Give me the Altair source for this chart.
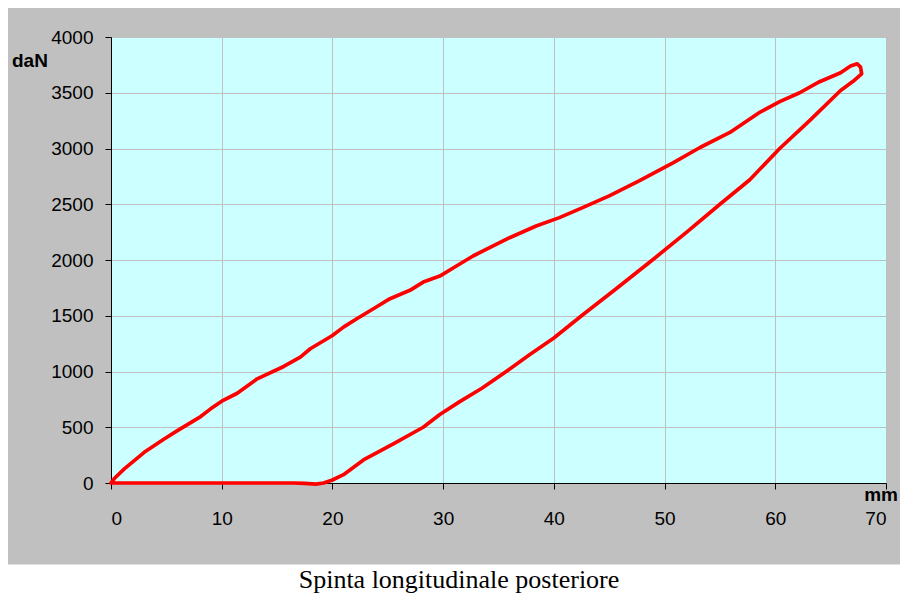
import altair as alt
import pandas as pd

# Loading branch (mm, daN)
load_mm = [0, 0.3, 1.2, 3.0, 4.8, 6.0, 8.1, 9.0, 10.0, 11.4, 13.2, 15.6, 17.1, 18.0,
           20.0, 21.0, 22.2, 23.7, 25.2, 27.0, 28.2, 29.7, 31.2, 32.7, 34.2, 36.0,
           38.4, 40.5, 42.6, 45.0, 47.7, 50.8, 53.2, 55.9, 58.6, 60.4, 62.2, 64.0,
           65.9, 66.8, 67.4, 67.7, 67.8]
load_dan = [0, 40, 126, 275, 395, 470, 596, 665, 734, 805, 934, 1045, 1129, 1204,
            1323, 1398, 1473, 1563, 1653, 1728, 1802, 1856, 1946, 2036, 2111, 2200,
            2305, 2380, 2470, 2575, 2710, 2874, 3009, 3144, 3325, 3420, 3500, 3599,
            3680, 3740, 3760, 3730, 3670]

# Unloading branch (mm, daN)
unload_mm = [67.0, 65.9, 63.1, 60.4, 57.7, 55.0, 52.0, 48.9, 45.6, 42.5, 40.0, 37.8,
             35.7, 33.5, 31.5, 29.7, 28.2, 25.5, 22.8, 21.0, 20.0, 19.2, 18.5, 17.5,
             16.5, 10.0, 0.0]
unload_dan = [3600, 3520, 3250, 3000, 2720, 2500, 2250, 2000, 1740, 1500, 1300, 1150,
              1000, 850, 730, 614, 500, 350, 207, 75, 27, 0, -10, -3,
              0, 0, 0]

x_ticks = [0, 10, 20, 30, 40, 50, 60, 70]
y_ticks = [0, 500, 1000, 1500, 2000, 2500, 3000, 3500, 4000]

y_label = "daN"
x_label = "mm"
caption = "Spinta longitudinale posteriore"

mm = load_mm + unload_mm
dan = load_dan + unload_dan
df = pd.DataFrame({"mm": mm, "daN": dan, "idx": list(range(len(mm)))})

W, H = 775, 446
one = pd.DataFrame({"a": [0]})

x_scale = alt.Scale(domain=[0, 70], nice=False, zero=False)
y_scale = alt.Scale(domain=[0, 4000], nice=False, zero=False)

white_band = alt.Chart(one).mark_rect(color="white", clip=False).encode(
    x=alt.value(-110), x2=alt.value(820), y=alt.value(527.5), y2=alt.value(620)
)

line = alt.Chart(df).mark_line(color="#FF0000", strokeWidth=3.7, clip=False,
                               strokeJoin="round", strokeCap="round").encode(
    x=alt.X("mm:Q", scale=x_scale,
            axis=alt.Axis(values=x_ticks, title=None, labelPadding=20, format="d")),
    y=alt.Y("daN:Q", scale=y_scale,
            axis=alt.Axis(values=y_ticks, title=None, labelPadding=12, format="d")),
    order=alt.Order("idx:Q"),
)

ylab = alt.Chart(one).mark_text(text=y_label, font="Liberation Sans", fontSize=19,
                                fontWeight="bold", align="left", baseline="alphabetic",
                                color="black").encode(x=alt.value(-99), y=alt.value(30))
xlab = alt.Chart(one).mark_text(text=x_label, font="Liberation Sans", fontSize=19,
                                fontWeight="bold", align="right", baseline="alphabetic",
                                color="black").encode(x=alt.value(787), y=alt.value(464))
cap = alt.Chart(one).mark_text(text=caption, font="Liberation Serif", fontSize=26,
                               align="center", baseline="alphabetic",
                               color="black").encode(x=alt.value(348), y=alt.value(551))

chart = alt.layer(white_band, line, ylab, xlab, cap).properties(
    width=W, height=H,
    autosize=alt.AutoSizeParams(type="none"),
    padding={"left": 103, "top": 29, "right": 14, "bottom": 110},
    background="#C0C0C0",
).configure_view(
    fill="#CCFFFF", stroke="#808080", strokeWidth=1
).configure_axis(
    labelFont="Liberation Sans", labelFontSize=19, labelColor="black",
    tickColor="black", tickSize=6, tickWidth=1,
    domainColor="black", domainWidth=1,
    gridColor="#C0C0C0", gridWidth=1, grid=True,
)

chart.save("out.html", embed_options={"renderer": "svg", "actions": False})
